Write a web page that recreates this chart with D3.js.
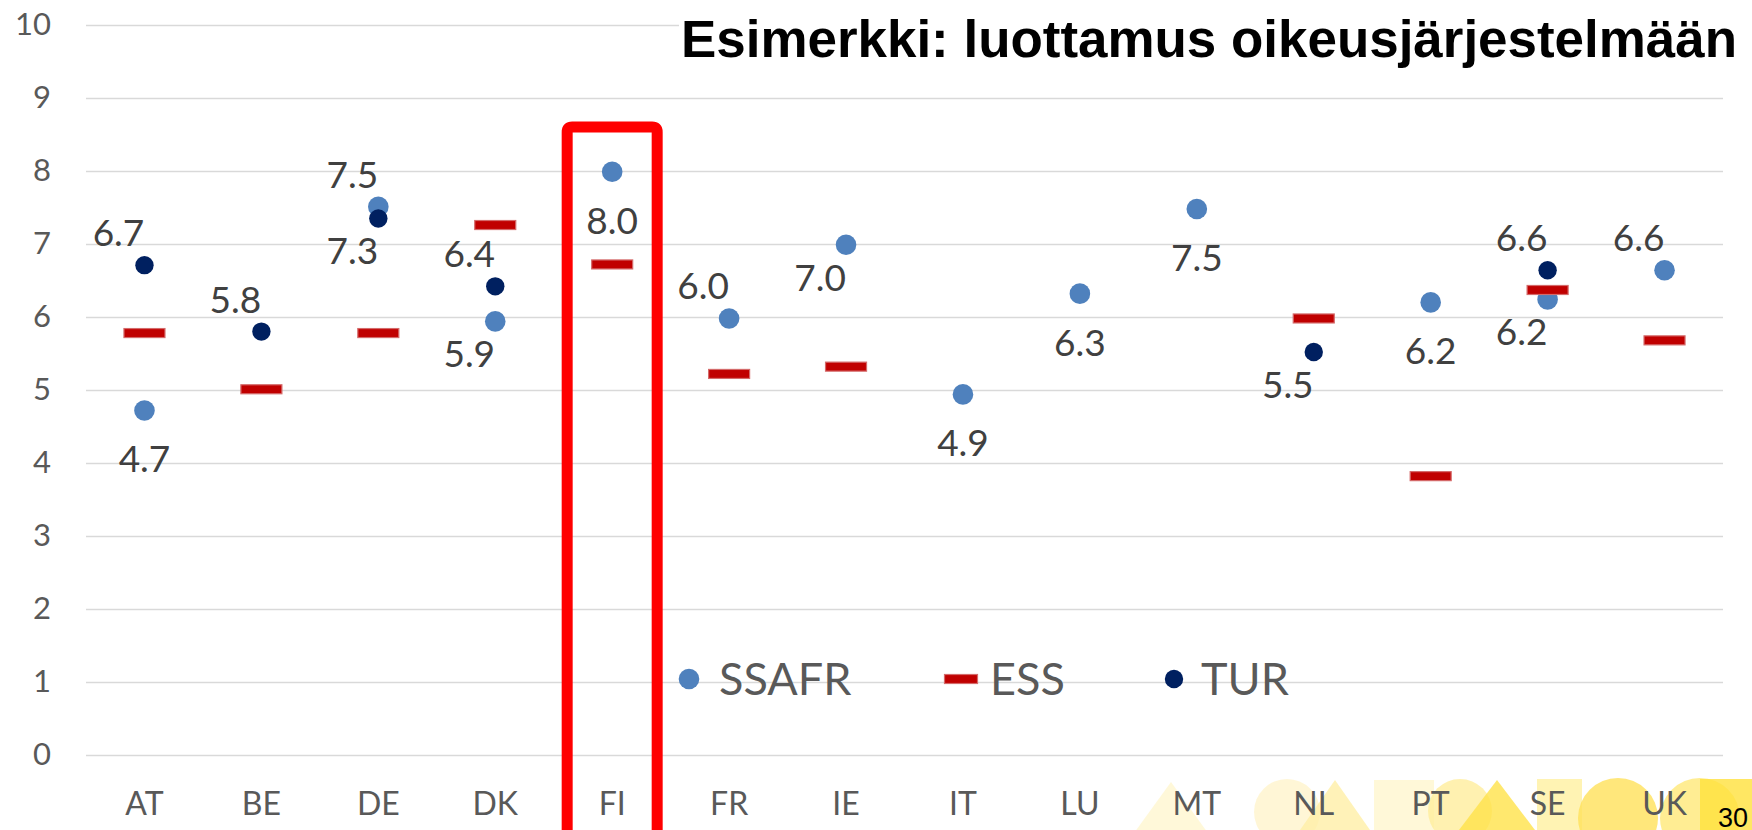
<!DOCTYPE html>
<html>
<head>
<meta charset="utf-8">
<script src="https://cdn.jsdelivr.net/npm/d3@7"></script>
<style>
  html, body { margin: 0; padding: 0; background: #fff; overflow: hidden; }
</style>
</head>
<body>
<div id="chart"></div>
<script>
const width = 1752;
const height = 830;

// Data
const categories = ["AT", "BE", "DE", "DK", "FI", "FR", "IE", "IT", "LU", "MT", "NL", "PT", "SE", "UK"];
const ssafr = [4.72, null, 7.51, 5.94, 7.99, 5.98, 6.99, 4.94, 6.32, 7.48, null, 6.2, 6.24, 6.64];
const ess   = [5.78, 5.01, 5.78, 7.26, 6.72, 5.22, 5.32, null, null, null, 5.98, 3.82, 6.37, 5.68];
const tur   = [6.71, 5.8, 7.35, 6.42, null, null, null, null, null, null, 5.52, null, 6.64, null];
// where the data label sits: ul = up-left, dl = down-left, d = below
const ssafrLabel = ["d", null, "ul", "dl", "d", "ul", "dl", "d", "d", "d", null, "d", "dl", "ul"];
const turLabel   = ["ul", "ul", "dl", "ul", null, null, null, null, null, null, "dl", null, "ul", null];
const yTicks = [0, 1, 2, 3, 4, 5, 6, 7, 8, 9, 10];
const highlighted = "FI";
const title = "Esimerkki: luottamus oikeusjärjestelmään";
const pageNumber = "30";

const colors = { SSAFR: "#4F81BD", ESS: "#C00000", TUR: "#002060" };
const font = "Lato, 'Open Sans', sans-serif";

const margin = { top: 25, right: 29, bottom: 75, left: 86 };

const svg = d3.select("#chart")
  .append("svg")
  .attr("width", width)
  .attr("height", height);

// decorative logo strip at the bottom right (not data)
const logo = [
  { t: "tri", x: 1171, y: 782, w: 70, c: "#FFF6D0" },
  { t: "circ", x: 1287, y: 812, r: 33, c: "#FFF4CC" },
  { t: "tri", x: 1335, y: 780, w: 70, c: "#FFEFA6" },
  { t: "rect", x: 1374, y: 780, w: 60, c: "#FFF6CE" },
  { t: "circ", x: 1460, y: 811, r: 32, c: "#FFEE9C" },
  { t: "tri", x: 1497, y: 780, w: 76, c: "#FFE24A" },
  { t: "rect", x: 1537, y: 779, w: 45, c: "#FFF0A0" },
  { t: "circ", x: 1618, y: 818, r: 40, c: "#FFE15A" },
  { t: "circ", x: 1700, y: 818, r: 40, c: "#FFE878" },
  { t: "rect", x: 1700, y: 779, w: 52, c: "#FFE13C" }
];
const deco = svg.append("g").attr("class", "logo");
logo.forEach(s => {
  if (s.t === "tri") {
    deco.append("path")
      .attr("d", `M${s.x},${s.y} L${s.x + s.w * 0.6},${height + 10} L${s.x - s.w * 0.6},${height + 10} Z`)
      .attr("fill", s.c).attr("opacity", 0.8);
  } else if (s.t === "circ") {
    deco.append("circle").attr("cx", s.x).attr("cy", s.y).attr("r", s.r)
      .attr("fill", s.c).attr("opacity", 0.8);
  } else {
    deco.append("rect").attr("x", s.x).attr("y", s.y).attr("width", s.w).attr("height", height - s.y)
      .attr("fill", s.c).attr("opacity", 0.8);
  }
});

const x = d3.scaleBand()
  .domain(categories)
  .range([margin.left, width - margin.right])
  .padding(0);

const y = d3.scaleLinear()
  .domain([0, 10])
  .range([height - margin.bottom, margin.top]);

const cx = c => x(c) + x.bandwidth() / 2;

// gridlines + y labels
const yAxis = svg.append("g")
  .attr("transform", `translate(${margin.left},0)`)
  .call(d3.axisLeft(y).tickValues(yTicks).tickFormat(d3.format("d"))
    .tickSize(-(width - margin.left - margin.right)).tickPadding(35));
yAxis.select(".domain").remove();
yAxis.selectAll(".tick line").attr("stroke", "#D9D9D9").attr("stroke-width", 1.6);
yAxis.selectAll(".tick text")
  .attr("fill", "#595959")
  .style("font-family", font)
  .style("font-size", "31px");

// x labels
const xAxis = svg.append("g")
  .attr("transform", `translate(0,${height - margin.bottom})`)
  .call(d3.axisBottom(x).tickSize(0));
xAxis.select(".domain").remove();
xAxis.selectAll(".tick text")
  .attr("y", 60)
  .attr("dy", 0)
  .attr("fill", "#595959")
  .style("font-family", font)
  .style("font-size", "32px");

// title with white box
const titleG = svg.append("g");
titleG.append("rect")
  .attr("x", 679).attr("y", 10).attr("width", width - 679).attr("height", 62)
  .attr("fill", "#fff");
titleG.append("text")
  .attr("x", 681)
  .attr("y", 57)
  .attr("textLength", 1056)
  .attr("lengthAdjust", "spacingAndGlyphs")
  .style("font-family", "'Liberation Sans', Arial, sans-serif")
  .style("font-weight", "bold")
  .style("font-size", "51px")
  .attr("fill", "#000")
  .text(title);

// highlight box around FI
const hx = cx(highlighted);
svg.append("path")
  .attr("d", `M${hx - 45},${height + 20} L${hx - 45},${y(9) + 34} Q${hx - 45},${y(9) + 29} ${hx - 40},${y(9) + 29}
              L${hx + 40},${y(9) + 29} Q${hx + 45},${y(9) + 29} ${hx + 45},${y(9) + 34} L${hx + 45},${height + 20}`)
  .attr("fill", "none")
  .attr("stroke", "#FF0000")
  .attr("stroke-width", 11);

const toPoints = vals => categories.map((c, i) => ({ c, v: vals[i], i })).filter(d => d.v != null);

// SSAFR dots
svg.append("g").selectAll("circle")
  .data(toPoints(ssafr))
  .join("circle")
  .attr("cx", d => cx(d.c))
  .attr("cy", d => y(d.v))
  .attr("r", 10.3)
  .attr("fill", colors.SSAFR);

// ESS dashes
svg.append("g").selectAll("rect")
  .data(toPoints(ess))
  .join("rect")
  .attr("x", d => cx(d.c) - 20.5)
  .attr("y", d => y(d.v) - 4.5)
  .attr("width", 41)
  .attr("height", 9)
  .attr("fill", colors.ESS)
  .attr("stroke", "#D46A6A")
  .attr("stroke-width", 1.2);

// TUR dots
svg.append("g").selectAll("circle")
  .data(toPoints(tur))
  .join("circle")
  .attr("cx", d => cx(d.c))
  .attr("cy", d => y(d.v))
  .attr("r", 9.2)
  .attr("fill", colors.TUR);

// data labels
const offsets = { ul: [-26, -19], dl: [-26, 46], d: [0, 62] };
const labelData = [
  ...toPoints(ssafr).filter(d => ssafrLabel[d.i]).map(d => ({ ...d, p: ssafrLabel[d.i] })),
  ...toPoints(tur).filter(d => turLabel[d.i]).map(d => ({ ...d, p: turLabel[d.i] }))
];
svg.append("g").selectAll("text")
  .data(labelData)
  .join("text")
  .attr("x", d => cx(d.c) + offsets[d.p][0])
  .attr("y", d => y(d.v) + offsets[d.p][1])
  .attr("text-anchor", "middle")
  .attr("fill", "#404040")
  .style("font-family", font)
  .style("font-size", "37px")
  .text(d => d3.format(".1f")(d.v));

// legend
const legendY = 679;
const legend = svg.append("g");
const legendItems = [
  { name: "SSAFR", x: 689, tx: 719 },
  { name: "ESS", x: 961, tx: 990 },
  { name: "TUR", x: 1174, tx: 1201 }
];
legendItems.forEach(item => {
  if (item.name === "ESS") {
    legend.append("rect")
      .attr("x", item.x - 16.5).attr("y", legendY - 4.5)
      .attr("width", 33).attr("height", 9)
      .attr("fill", colors.ESS).attr("stroke", "#D46A6A").attr("stroke-width", 1.2);
  } else {
    legend.append("circle")
      .attr("cx", item.x).attr("cy", legendY)
      .attr("r", item.name === "TUR" ? 9.2 : 10.3)
      .attr("fill", colors[item.name]);
  }
  legend.append("text")
    .attr("x", item.tx)
    .attr("y", legendY + 16)
    .attr("fill", "#595959")
    .style("font-family", font)
    .style("font-size", "45px")
    .text(item.name);
});

// page number
svg.append("text")
  .attr("x", width - 4)
  .attr("y", 827)
  .attr("text-anchor", "end")
  .style("font-family", "'Liberation Sans', Arial, sans-serif")
  .style("font-size", "27px")
  .attr("fill", "#000")
  .text(pageNumber);
</script>
</body>
</html>
